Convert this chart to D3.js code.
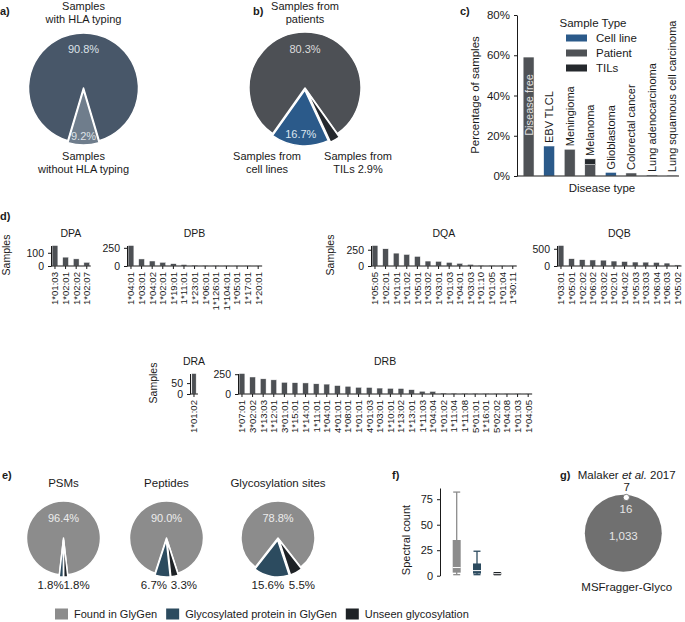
<!DOCTYPE html>
<html><head><meta charset="utf-8">
<script src="https://cdn.jsdelivr.net/npm/d3@7"></script>
<style>
body{margin:0;background:#fff;}
text{font-family:"Liberation Sans",Arial,sans-serif;fill:#1a1a1a;}
</style></head><body>
<svg id="fig" width="685" height="622"></svg>
<script>
// a) HLA typing
var hlaParts = ["with HLA typing", "without HLA typing"];
var hlaPct = [90.8, 9.2];
// b) sample source (clockwise order)
var sourceParts = ["patients", "TILs", "cell lines"];
var sourcePct = [80.3, 2.9, 16.7];
// c) disease types
var diseaseTypes = ["Disease free", "EBV TLCL", "Meningioma", "Melanoma", "Glioblastoma", "Colorectal cancer", "Lung adenocarcinoma", "Lung squamous cell carcinoma"];
var sampleTypes = ["Cell line", "Patient", "TILs"];
var cellLinePct = [0, 14.9, 0, 0, 1.8, 0, 0, 0];
var patientPct = [59.1, 0, 13.3, 5.6, 0, 1.5, 0.5, 0.4];
var tilsPct = [0, 0, 0, 2.9, 0, 0, 0, 0];
var pctTicks = [0, 20, 40, 60, 80];
// d) HLA class II alleles
var dpaAlleles = ["1*01:03", "1*02:01", "1*02:02", "1*02:07"];
var dpaCounts = [155, 67, 54, 28];
var dpbAlleles = ["1*04:01", "1*03:01", "1*04:02", "1*02:01", "1*19:01", "1*11:01", "1*23:01", "1*06:01", "1*126:01", "1*104:01", "1*05:01", "1*17:01", "1*20:01"];
var dpbCounts = [282, 97, 69, 51, 32, 20, 12, 10, 8, 7, 6, 5, 4];
var dqaAlleles = ["1*05:05", "1*02:01", "1*01:01", "1*01:02", "1*05:01", "1*03:02", "1*03:01", "1*01:03", "1*04:01", "1*03:03", "1*01:10", "1*01:05", "1*01:04", "1*30:11"];
var dqaCounts = [315, 265, 198, 178, 148, 76, 72, 56, 41, 25, 12, 10, 8, 6];
var dqbAlleles = ["1*03:01", "1*05:01", "1*02:02", "1*06:02", "1*03:02", "1*02:01", "1*04:02", "1*05:03", "1*03:03", "1*06:04", "1*06:03", "1*05:02"];
var dqbCounts = [595, 212, 183, 175, 170, 144, 130, 115, 112, 105, 85, 30];
var draAlleles = ["1*01:02"];
var draCounts = [94];
var drbAlleles = ["1*07:01", "3*02:02", "1*13:03", "1*12:01", "3*01:01", "1*15:01", "1*14:01", "1*11:01", "1*04:01", "4*01:01", "1*08:01", "1*01:01", "4*01:03", "1*03:01", "1*10:01", "1*13:02", "1*13:01", "1*11:03", "1*04:04", "1*01:02", "1*11:04", "1*11:08", "5*01:01", "1*16:01", "5*02:02", "1*04:08", "1*01:03", "1*04:05"];
var drbCounts = [259, 215, 192, 179, 148, 143, 140, 129, 125, 107, 98, 85, 83, 75, 72, 70, 55, 35, 33, 12, 11, 10, 10, 9, 8, 7, 6, 5];
// e) GlyGen comparison: found, glycosylated protein, unseen
var glyGroups = ["Found in GlyGen", "Glycosylated protein in GlyGen", "Unseen glycosylation"];
var glyPies = ["PSMs", "Peptides", "Glycosylation sites"];
var psmPct = [96.4, 1.8, 1.8];
var peptidePct = [90.0, 6.7, 3.3];
var sitePct = [78.8, 15.6, 5.5];
// f) spectral counts (whisker low, q1, median, q3, whisker high)
var boxLow = [1, 1, 1];
var boxQ1 = [3, 2, 1];
var boxMed = [8, 5, 2];
var boxQ3 = [35, 12, 3];
var boxHigh = [82, 24, 3];
var countTicks = [0, 25, 50, 75];
// g) overlap: Malaker only, shared, MSFragger-Glyco only
var vennCounts = [7, 16, 1033];

var glyColors = ["#8c8c8c", "#2c4b5f", "#1e2226"];
var typeColors = {"Cell line": "#2b5a8a", "Patient": "#4f5256", "TILs": "#25292d"};

var svg = d3.select("#fig");
svg.append("rect").attr("width", 685).attr("height", 622).attr("fill", "#fff");

function letter(x, y, t) {
  svg.append("text").attr("x", x).attr("y", y)
    .style("font-weight", "bold").style("font-size", "11px").text(t);
}
function label(x, y, t, size, col) {
  return svg.append("text").attr("x", x).attr("y", y).attr("text-anchor", "middle")
    .style("font-size", (size || 11) + "px").style("fill", col || "#1a1a1a").text(t);
}

// pie with first slice as the big one, small slices centred at the bottom
function drawPie(cx, cy, r, vals, cols, explode) {
  var total = d3.sum(vals);
  var a0 = Math.PI + Math.PI * (total - vals[0]) / total;
  var arcs = d3.pie().sort(null).startAngle(a0).endAngle(a0 + 2 * Math.PI)(vals);
  var arc = d3.arc().innerRadius(0).outerRadius(r);
  var g = svg.append("g").attr("transform", "translate(" + cx + "," + cy + ")");
  g.selectAll("path").data(arcs).enter().append("path")
    .attr("d", arc)
    .attr("transform", function(d, i) {
      var m = (d.startAngle + d.endAngle) / 2, e = explode[i] || 0;
      return "translate(" + (Math.sin(m) * e) + "," + (-Math.cos(m) * e) + ")";
    })
    .attr("fill", function(d, i) { return cols[i]; })
    .attr("stroke", "#fff").attr("stroke-width", 1.5).attr("stroke-linejoin", "round");
  arcs.forEach(function(d) { d.mid = (d.startAngle + d.endAngle) / 2; });
  return arcs;
}
function pctAt(cx, cy, d, dist, t, col) {
  label(cx + Math.sin(d.mid) * dist, cy - Math.cos(d.mid) * dist + 4, t, 11, col);
}

// ---------- a) ----------
letter(0, 15, "a)");
label(83.5, 10, "Samples");
label(83.5, 23, hlaParts[0]);
var aArcs = drawPie(83.5, 88, 55, hlaPct, ["#485769", "#6f7d8c"], [0, 2]);
pctAt(83.5, 88, aArcs[0], 39, hlaPct[0] + "%", "#dde2e8");
pctAt(83.5, 88, aArcs[1], 48, hlaPct[1] + "%", "#dde2e8");
label(83.5, 160, "Samples");
label(83.5, 173, hlaParts[1]);

// ---------- b) ----------
letter(253, 15, "b)");
label(305, 10, "Samples from");
label(305, 23, sourceParts[0]);
var bArcs = drawPie(305, 88, 56, sourcePct, ["#4d5055", "#25292e", "#2b5a8a"], [0, 4, 2]);
pctAt(305, 88, bArcs[0], 39, sourcePct[0] + "%", "#dcdcdc");
pctAt(305, 88, bArcs[2], 46, sourcePct[2] + "%", "#dde6f0");
label(267, 160, "Samples from");
label(267, 173, sourceParts[2]);
label(358, 160, "Samples from");
label(358, 173, sourceParts[1] + " " + sourcePct[1] + "%");

// ---------- c) ----------
letter(460, 15, "c)");
var cRows = diseaseTypes.map(function(d, i) {
  return {type: d, "Cell line": cellLinePct[i], "Patient": patientPct[i], "TILs": tilsPct[i]};
});
var cx = d3.scaleBand().domain(diseaseTypes).range([518, 683]).paddingInner(0.47).paddingOuter(0.25);
var cy = d3.scaleLinear().domain([0, 80]).range([176, 15]);
var stack = d3.stack().keys(sampleTypes)(cRows);
svg.append("g").selectAll("g").data(stack).enter().append("g")
  .attr("fill", function(s) { return typeColors[s.key]; })
  .selectAll("rect").data(function(s) { return s; }).enter().append("rect")
  .filter(function(d) { return d[1] - d[0] > 0; })
  .attr("x", function(d) { return cx(d.data.type); })
  .attr("width", cx.bandwidth())
  .attr("y", function(d) { return cy(d[1]); })
  .attr("height", function(d) { return cy(d[0]) - cy(d[1]); })
  .attr("stroke", "#fff").attr("stroke-width", 0.5);
var cAxis = svg.append("g").attr("transform", "translate(517,0)")
  .call(d3.axisLeft(cy).tickValues(pctTicks).tickFormat(function(d) { return d + "%"; }).tickSize(3).tickSizeOuter(0).tickPadding(4));
cAxis.attr("font-family", null).attr("font-size", null);
cAxis.selectAll("text").style("font-size", "11.5px");
cAxis.selectAll("line,path").attr("stroke", "#1a1a1a");
svg.append("line").attr("x1", 517).attr("x2", 679).attr("y1", 176).attr("y2", 176).attr("stroke", "#1a1a1a");
cRows.forEach(function(r) {
  var tot = r["Cell line"] + r["Patient"] + r["TILs"];
  var top = cy(tot), xm = cx(r.type) + cx.bandwidth() / 2;
  var inside = top < 80;
  svg.append("text")
    .attr("transform", "translate(" + (xm + 4) + "," + (inside ? top + 17 : top - 3) + ") rotate(-90)")
    .attr("text-anchor", inside ? "end" : "start")
    .style("font-size", "11px").style("fill", inside ? "#e0e0e0" : "#1a1a1a")
    .text(r.type);
});
label(475, 0, "Percentage of samples", 11.5).attr("transform", "translate(479,95) rotate(-90)").attr("x", 0).attr("y", 0);
label(602, 192, "Disease type", 11.5);
label(593, 27, "Sample Type", 11.5);
sampleTypes.forEach(function(t, i) {
  svg.append("rect").attr("x", 566).attr("y", 34.5 + i * 15).attr("width", 21).attr("height", 7).attr("fill", typeColors[t]);
  svg.append("text").attr("x", 596).attr("y", 42 + i * 15).style("font-size", "11.5px").text(t);
});

// ---------- d) ----------
letter(0, 220, "d)");
function alleleBars(title, alleles, counts, x0, base, ticks, ylab) {
  var step = 10.6, w = step * (alleles.length - 0.45 + 0.2);
  var x = d3.scaleBand().domain(alleles).range([x0, x0 + w]).paddingInner(0.45).paddingOuter(0.1);
  var y = d3.scaleLinear().domain([0, d3.max(counts)]).range([base, base - 20.5]);
  var g = svg.append("g");
  g.selectAll("rect").data(alleles).enter().append("rect")
    .attr("x", function(a) { return x(a); })
    .attr("width", x.bandwidth())
    .attr("y", function(a, i) { return y(counts[i]); })
    .attr("height", function(a, i) { return base - y(counts[i]); })
    .attr("fill", "#4d5054").attr("stroke", "#fff").attr("stroke-width", 0.5);
  var ya = g.append("g").attr("transform", "translate(" + x0 + ",0)")
    .call(d3.axisLeft(y).tickValues(ticks).tickSize(3).tickSizeOuter(0).tickPadding(4));
  ya.attr("font-family", null).attr("font-size", null);
  ya.selectAll("text").style("font-size", "10.5px");
  ya.selectAll("line,path").attr("stroke", "#1a1a1a");
  g.append("line").attr("x1", x0).attr("x2", x0 + w).attr("y1", base).attr("y2", base).attr("stroke", "#1a1a1a");
  alleles.forEach(function(a) {
    var xm = x(a) + x.bandwidth() / 2;
    g.append("line").attr("x1", xm).attr("x2", xm).attr("y1", base).attr("y2", base + 3).attr("stroke", "#1a1a1a");
    g.append("text").attr("transform", "translate(" + (xm + 3.4) + "," + (base + 6) + ") rotate(-90)")
      .attr("text-anchor", "end").style("font-size", "9.6px").text(a);
  });
  label(x0 + w / 2, base - 29, title, 10.5);
  if (ylab !== null) {
    svg.append("text").attr("transform", "translate(" + ylab + "," + (base - 11) + ") rotate(-90)")
      .attr("text-anchor", "middle").style("font-size", "10.5px").text("Samples");
  }
}
alleleBars("DPA", dpaAlleles, dpaCounts, 51, 266, [0, 100], 10);
alleleBars("DPB", dpbAlleles, dpbCounts, 127, 266, [0, 250], null);
alleleBars("DQA", dqaAlleles, dqaCounts, 371, 266, [0, 250], 334);
alleleBars("DQB", dqbAlleles, dqbCounts, 557, 266, [0, 500], null);
alleleBars("DRA", draAlleles, draCounts, 190, 394, [0, 50], 157);
alleleBars("DRB", drbAlleles, drbCounts, 238, 394, [0, 250], null);

// ---------- e) ----------
letter(2, 479, "e)");
var ePies = [psmPct, peptidePct, sitePct];
var eCenters = [63.5, 166.5, 278];
ePies.forEach(function(p, k) {
  var px = eCenters[k], py = 538, r = 37;
  label(px, 487, glyPies[k], 11.5);
  // clockwise: found, unseen, glycosylated protein
  var vals = [p[0], p[2], p[1]];
  var arcs = drawPie(px, py, r, vals, [glyColors[0], glyColors[2], glyColors[1]], [0, 2, 2]);
  pctAt(px, py, arcs[0], 20, p[0].toFixed(1) + "%", "#ececec");
  var xb = px + Math.sin(arcs[2].mid) * r * 1.25, xu = px + Math.sin(arcs[1].mid) * r * 1.25;
  var mid = (xb + xu) / 2, gap = Math.max(xu - xb, 26 + k * 4);
  label(mid - gap / 2, 589, p[1].toFixed(1) + "%", 11.5);
  label(mid + gap / 2, 589, p[2].toFixed(1) + "%", 11.5);
});
var lx = 55;
glyGroups.forEach(function(gname, i) {
  svg.append("rect").attr("x", lx).attr("y", 608.5).attr("width", 13).attr("height", 11).attr("fill", glyColors[i]);
  var t = svg.append("text").attr("x", lx + 19).attr("y", 618).style("font-size", "11px").text(gname);
  lx += 19 + t.node().getComputedTextLength() + 9;
});

// ---------- f) ----------
letter(392, 479, "f)");
var fy = d3.scaleLinear().domain([0, 86]).range([575.7, 488]);
var fx = d3.scalePoint().domain(glyGroups).range([456.7, 497.3]);
var fAxis = svg.append("g").attr("transform", "translate(440,0)")
  .call(d3.axisLeft(fy).tickValues(countTicks).tickSize(3).tickSizeOuter(0).tickPadding(4));
fAxis.attr("font-family", null).attr("font-size", null);
fAxis.selectAll("text").style("font-size", "11px");
fAxis.selectAll("line,path").attr("stroke", "#1a1a1a");
svg.append("text").attr("transform", "translate(410,540) rotate(-90)").attr("text-anchor", "middle")
  .style("font-size", "11px").text("Spectral count");
glyGroups.forEach(function(gname, i) {
  var xm = fx(gname), c = glyColors[i], bw = 8;
  svg.append("line").attr("x1", xm).attr("x2", xm).attr("y1", fy(boxLow[i])).attr("y2", fy(boxHigh[i])).attr("stroke", c).attr("stroke-width", 1.3);
  [boxLow[i], boxHigh[i]].forEach(function(v) {
    svg.append("line").attr("x1", xm - 3.5).attr("x2", xm + 3.5).attr("y1", fy(v)).attr("y2", fy(v)).attr("stroke", c).attr("stroke-width", 1.3);
  });
  svg.append("rect").attr("x", xm - bw / 2).attr("width", bw)
    .attr("y", fy(boxQ3[i])).attr("height", Math.max(1.5, fy(boxQ1[i]) - fy(boxQ3[i]))).attr("fill", c);
  svg.append("line").attr("x1", xm - bw / 2).attr("x2", xm + bw / 2).attr("y1", fy(boxMed[i])).attr("y2", fy(boxMed[i])).attr("stroke", "#fff").attr("stroke-width", 1);
});

// ---------- g) ----------
letter(560, 479, "g)");
var vr = d3.scaleSqrt().domain([0, d3.sum(vennCounts)]).range([0, 38.6]);
var R = vr(vennCounts[1] + vennCounts[2]), gcx = 623.3, gcy = 533.3;
svg.append("circle").attr("cx", gcx).attr("cy", gcy).attr("r", R).attr("fill", "#707070");
var rs = vr(vennCounts[0]);
svg.append("circle").attr("cx", gcx + 3).attr("cy", gcy - R + rs - 0.5).attr("r", rs).attr("fill", "#fff").attr("stroke", "#666").attr("stroke-width", 0.8);
var mt = label(626.7, 479, "Malaker ", 11.5);
mt.append("tspan").style("font-style", "italic").text("et al.");
mt.append("tspan").text(" 2017");
label(626.7, 491, d3.format(",")(vennCounts[0]), 11.5);
label(626, 513, d3.format(",")(vennCounts[1]), 11.5, "#e6e6e6");
label(623.3, 540, d3.format(",")(vennCounts[2]), 11.5, "#e6e6e6");
label(626.7, 591, "MSFragger-Glyco", 11.5);
</script>
</body></html>
